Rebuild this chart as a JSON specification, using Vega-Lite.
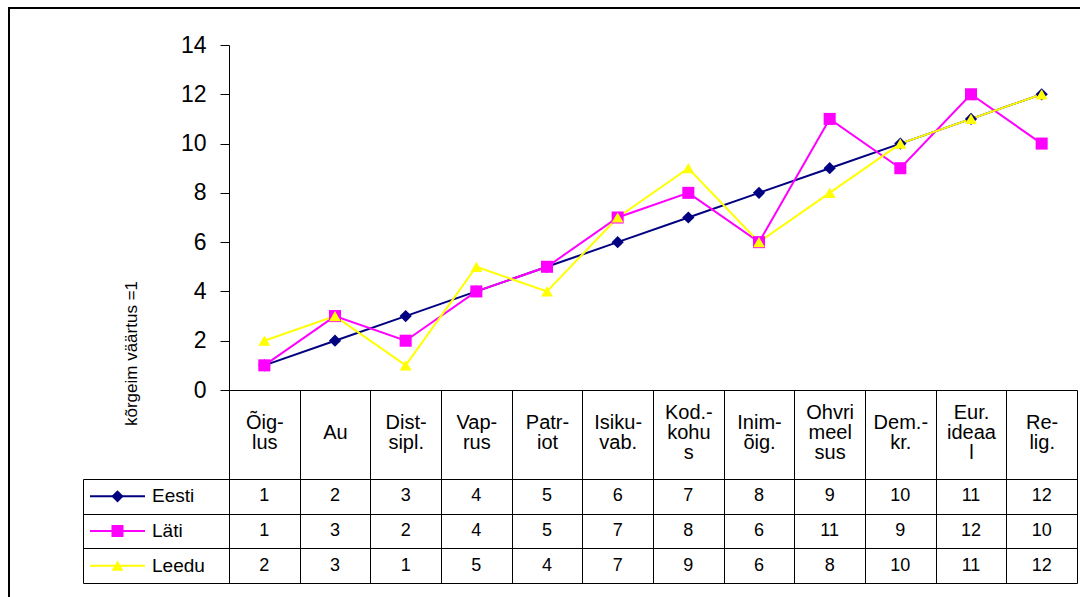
{
  "$schema": "https://vega.github.io/schema/vega-lite/v6.json",
  "width": 1081,
  "height": 599,
  "autosize": {"type": "none"},
  "padding": {"left": 9, "top": 8, "right": -10, "bottom": -10},
  "background": "white",
  "config": {
    "view": {"stroke": "black", "strokeWidth": 2},
    "font": "Liberation Sans",
    "axis": {"grid": false}
  },
  "datasets": {
    "ranks": [
      {"cat": "Õig- lus", "series": "Eesti", "value": 1},
      {"cat": "Au", "series": "Eesti", "value": 2},
      {"cat": "Dist- sipl.", "series": "Eesti", "value": 3},
      {"cat": "Vap- rus", "series": "Eesti", "value": 4},
      {"cat": "Patr- iot", "series": "Eesti", "value": 5},
      {"cat": "Isiku- vab.", "series": "Eesti", "value": 6},
      {"cat": "Kod.- kohu s", "series": "Eesti", "value": 7},
      {"cat": "Inim- õig.", "series": "Eesti", "value": 8},
      {"cat": "Ohvri meel sus", "series": "Eesti", "value": 9},
      {"cat": "Dem.- kr.", "series": "Eesti", "value": 10},
      {"cat": "Eur. ideaa l", "series": "Eesti", "value": 11},
      {"cat": "Re- lig.", "series": "Eesti", "value": 12},
      {"cat": "Õig- lus", "series": "Läti", "value": 1},
      {"cat": "Au", "series": "Läti", "value": 3},
      {"cat": "Dist- sipl.", "series": "Läti", "value": 2},
      {"cat": "Vap- rus", "series": "Läti", "value": 4},
      {"cat": "Patr- iot", "series": "Läti", "value": 5},
      {"cat": "Isiku- vab.", "series": "Läti", "value": 7},
      {"cat": "Kod.- kohu s", "series": "Läti", "value": 8},
      {"cat": "Inim- õig.", "series": "Läti", "value": 6},
      {"cat": "Ohvri meel sus", "series": "Läti", "value": 11},
      {"cat": "Dem.- kr.", "series": "Läti", "value": 9},
      {"cat": "Eur. ideaa l", "series": "Läti", "value": 12},
      {"cat": "Re- lig.", "series": "Läti", "value": 10},
      {"cat": "Õig- lus", "series": "Leedu", "value": 2},
      {"cat": "Au", "series": "Leedu", "value": 3},
      {"cat": "Dist- sipl.", "series": "Leedu", "value": 1},
      {"cat": "Vap- rus", "series": "Leedu", "value": 5},
      {"cat": "Patr- iot", "series": "Leedu", "value": 4},
      {"cat": "Isiku- vab.", "series": "Leedu", "value": 7},
      {"cat": "Kod.- kohu s", "series": "Leedu", "value": 9},
      {"cat": "Inim- õig.", "series": "Leedu", "value": 6},
      {"cat": "Ohvri meel sus", "series": "Leedu", "value": 8},
      {"cat": "Dem.- kr.", "series": "Leedu", "value": 10},
      {"cat": "Eur. ideaa l", "series": "Leedu", "value": 11},
      {"cat": "Re- lig.", "series": "Leedu", "value": 12}
    ],
    "legendRows": [
      {"series": "Eesti"},
      {"series": "Läti"},
      {"series": "Leedu"}
    ]
  },
  "layer": [
    {
      "data": {"name": "ranks"},
      "encoding": {
        "x": {
          "field": "cat", "type": "nominal", "sort": null,
          "scale": {"type": "band", "range": [220, 1068], "paddingInner": 0, "paddingOuter": 0},
          "axis": {
            "orient": "bottom", "offset": -217, "title": null,
            "domainColor": "black", "domainWidth": 1,
            "ticks": true, "tickSize": 193, "tickColor": "black", "tickWidth": 1, "tickBand": "extent",
            "labelAngle": 0, "labelAlign": "center", "labelBaseline": "middle",
            "labelPadding": -171, "labelFontSize": 20, "labelLineHeight": 10,
            "labelColor": "black", "labelFont": "Liberation Sans",
            "labelExpr": "length(split(datum.label, ' ')) == 3 ? [split(datum.label, ' ')[0], '\u200b', split(datum.label, ' ')[1], '\u200b', split(datum.label, ' ')[2]] : length(split(datum.label, ' ')) == 2 ? ['\u200b', split(datum.label, ' ')[0], '\u200b', split(datum.label, ' ')[1]] : ['\u200b', '\u200b', datum.label]",
            "labelOverlap": false, "labelLimit": 0, "labelFlush": false
          }
        }
      },
      "layer": [
        {
          "encoding": {
            "y": {
              "field": "value", "type": "quantitative",
              "scale": {"domain": [0, 14], "range": [382, 37], "nice": false, "zero": false},
              "axis": {
                "orient": "left", "offset": -220, "values": [0, 2, 4, 6, 8, 10, 12, 14],
                "domainColor": "black", "tickColor": "black", "tickSize": 9,
                "labelFontSize": 23, "labelPadding": 14, "labelColor": "black", "labelFont": "Liberation Sans",
                "title": "kõrgeim väärtus =1", "titleFontSize": 17, "titleFontWeight": "normal",
                "titleColor": "black", "titleFont": "Liberation Sans",
                "titleX": -98, "titleY": 345, "titleAngle": -90, "titleAlign": "center", "titleBaseline": "middle"
              }
            },
            "color": {
              "field": "series", "type": "nominal", "legend": null,
              "scale": {"domain": ["Eesti", "Läti", "Leedu"], "range": ["#000080", "#FF00FF", "#FFFF00"]}
            }
          },
          "layer": [
            {
              "mark": {"type": "line", "strokeWidth": 2},
              "encoding": {}
            },
            {
              "mark": {"type": "point", "filled": true, "opacity": 1},
              "encoding": {
                "shape": {
                  "field": "series", "type": "nominal", "legend": null,
                  "scale": {"domain": ["Eesti", "Läti", "Leedu"], "range": ["diamond", "square", "triangle-up"]}
                },
                "size": {
                  "field": "series", "type": "nominal", "legend": null,
                  "scale": {"domain": ["Eesti", "Läti", "Leedu"], "range": [150, 140, 180]}
                }
              }
            }
          ]
        },
        {
          "mark": {"type": "text", "fontSize": 18, "color": "black", "font": "Liberation Sans", "baseline": "middle", "align": "center"},
          "encoding": {
            "y": {
              "field": "series", "type": "nominal",
              "scale": {"type": "band", "domain": ["Eesti", "Läti", "Leedu"], "range": [471, 575], "paddingInner": 0, "paddingOuter": 0},
              "axis": {
                "orient": "right", "offset": -1007, "title": null, "labels": false,
                "domain": true, "domainColor": "black", "ticks": true, "tickSize": 994,
                "tickColor": "black", "tickBand": "extent", "grid": false
              }
            },
            "text": {"field": "value", "type": "quantitative"}
          }
        }
      ],
      "resolve": {"scale": {"y": "independent"}}
    },
    {
      "data": {"name": "legendRows"},
      "encoding": {
        "y": {
          "field": "series", "type": "nominal", "axis": null,
          "scale": {"type": "band", "domain": ["Eesti", "Läti", "Leedu"], "range": [471, 575], "paddingInner": 0, "paddingOuter": 0}
        }
      },
      "layer": [
        {
          "mark": {"type": "rule", "strokeWidth": 2},
          "encoding": {
            "x": {"datum": 0, "type": "quantitative", "axis": null, "scale": {"domain": [0, 1], "range": [81, 136], "nice": false, "zero": false}},
            "x2": {"datum": 1},
            "color": {"field": "series", "type": "nominal", "legend": null}
          }
        },
        {
          "mark": {"type": "point", "filled": true, "opacity": 1},
          "encoding": {
            "x": {"datum": 0.5, "type": "quantitative", "axis": null},
            "color": {"field": "series", "type": "nominal", "legend": null},
            "shape": {"field": "series", "type": "nominal", "legend": null},
            "size": {"field": "series", "type": "nominal", "legend": null}
          }
        },
        {
          "mark": {"type": "text", "fontSize": 19, "color": "black", "font": "Liberation Sans", "baseline": "middle", "align": "left", "dx": 7},
          "encoding": {
            "x": {"datum": 1, "type": "quantitative", "axis": null},
            "text": {"field": "series", "type": "nominal"}
          }
        }
      ]
    }
  ],
  "resolve": {"scale": {"x": "independent", "y": "independent"}}
}
